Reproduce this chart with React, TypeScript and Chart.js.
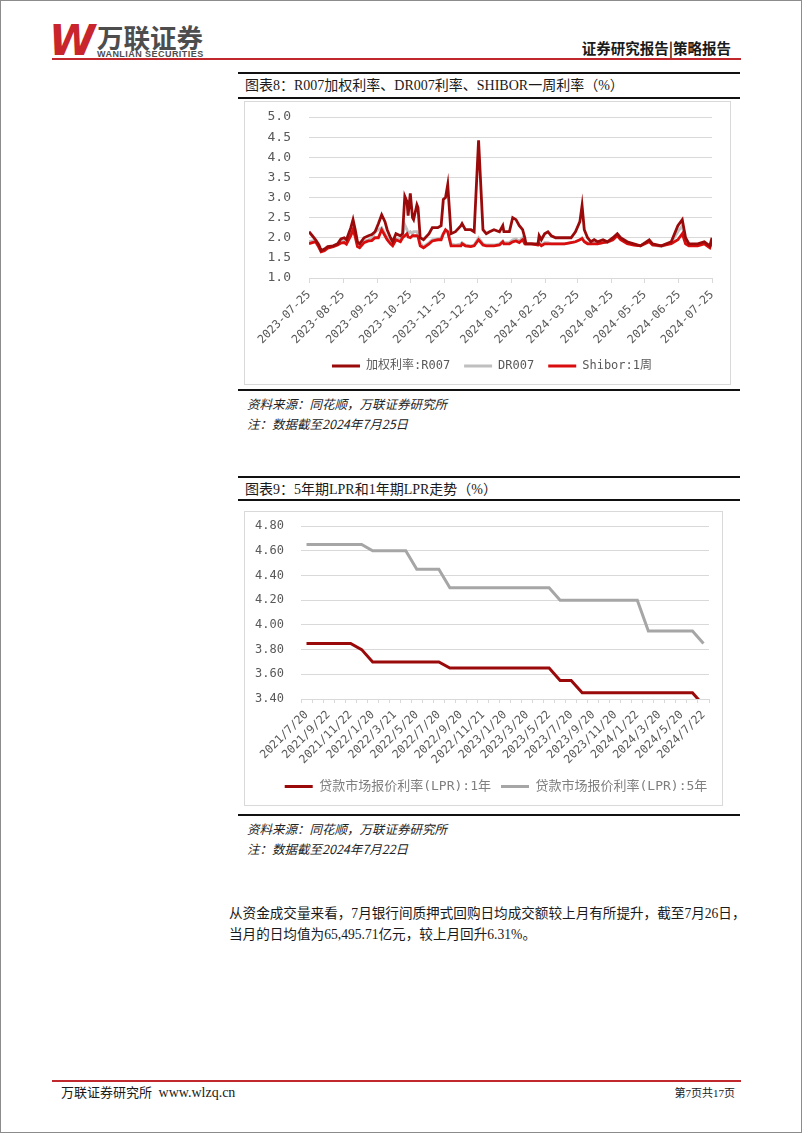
import React, { useEffect, useRef } from "react";
import { Chart, registerables } from "chart.js";

Chart.register(...registerables);

// ---------------- Chart 8 data (daily rates, sampled) ----------------
const RATE_DATES = [
  "2023-07-25", "2023-07-28", "2023-07-31", "2023-08-03", "2023-08-05", "2023-08-08", "2023-08-11",
  "2023-08-16", "2023-08-20", "2023-08-23", "2023-08-26", "2023-08-28", "2023-08-30", "2023-09-01",
  "2023-09-03", "2023-09-05", "2023-09-07", "2023-09-09", "2023-09-13", "2023-09-17", "2023-09-20",
  "2023-09-23", "2023-09-26", "2023-09-29", "2023-10-02", "2023-10-04", "2023-10-07", "2023-10-09",
  "2023-10-12", "2023-10-16", "2023-10-18", "2023-10-20", "2023-10-22", "2023-10-23", "2023-10-25",
  "2023-10-27", "2023-10-28", "2023-10-31", "2023-11-01", "2023-11-03", "2023-11-06", "2023-11-11",
  "2023-11-14", "2023-11-19", "2023-11-22", "2023-11-24", "2023-11-26", "2023-11-28", "2023-12-01",
  "2023-12-05", "2023-12-10", "2023-12-11", "2023-12-14", "2023-12-19", "2023-12-22", "2023-12-26",
  "2023-12-30", "2024-01-02", "2024-01-05", "2024-01-09", "2024-01-14", "2024-01-17", "2024-01-18",
  "2024-01-23", "2024-01-26", "2024-01-29", "2024-02-01", "2024-02-04", "2024-02-06", "2024-02-07",
  "2024-02-12", "2024-02-18", "2024-02-19", "2024-02-21", "2024-02-24", "2024-02-27", "2024-03-01",
  "2024-03-05", "2024-03-13", "2024-03-19", "2024-03-23", "2024-03-27", "2024-03-29", "2024-03-31",
  "2024-04-03", "2024-04-06", "2024-04-09", "2024-04-12", "2024-04-17", "2024-04-21", "2024-04-26",
  "2024-04-30", "2024-05-03", "2024-05-09", "2024-05-15", "2024-05-21", "2024-05-29", "2024-06-01",
  "2024-06-09", "2024-06-18", "2024-06-24", "2024-06-28", "2024-07-01", "2024-07-04", "2024-07-12",
  "2024-07-18", "2024-07-23", "2024-07-25",
];
const R007 = [
  2.15, 2.05, 1.95, 1.82, 1.68, 1.72, 1.78,
  1.80, 1.85, 1.97, 2.00, 1.95, 2.10, 2.25,
  2.45, 2.20, 1.90, 1.85, 2.00, 2.05, 2.08,
  2.15, 2.35, 2.57, 2.40, 2.20, 2.00, 1.90,
  2.10, 2.05, 2.10, 3.03, 2.90, 2.55, 3.10,
  2.50, 2.45, 2.82, 2.75, 2.00, 1.95, 2.10,
  2.25, 2.25, 2.30, 2.95, 3.00, 3.32, 2.10,
  2.15, 2.30, 2.35, 2.20, 2.20, 2.15, 4.42,
  2.20, 2.10, 2.15, 2.20, 2.15, 2.30, 2.15,
  2.15, 2.50, 2.45, 2.30, 2.20, 2.00, 1.85,
  1.85, 1.85, 2.05, 1.95, 2.10, 2.15, 2.05,
  2.00, 2.00, 2.00, 2.15, 2.40, 2.80, 2.20,
  2.00, 1.90, 1.95, 1.90, 1.95, 1.90, 2.00,
  2.10, 2.00, 1.90, 1.85, 1.80, 1.95, 1.85,
  1.80, 1.90, 2.30, 2.45, 2.00, 1.85, 1.85,
  1.90, 1.80, 2.00,
];
const DR007 = [
  1.90, 1.92, 1.93, 1.78, 1.66, 1.70, 1.75,
  1.79, 1.84, 1.90, 1.92, 1.87, 2.00, 2.12,
  2.25, 2.08, 1.82, 1.78, 1.92, 1.95, 1.98,
  2.15, 2.20, 2.25, 2.10, 2.00, 1.90, 1.82,
  1.98, 1.95, 2.05, 2.32, 2.20, 2.10, 2.15,
  2.10, 2.15, 2.15, 2.10, 1.85, 1.78, 1.88,
  1.95, 1.98, 2.00, 2.10, 2.15, 2.15, 1.85,
  1.82, 1.85, 1.88, 1.82, 1.80, 1.82, 2.00,
  1.85, 1.82, 1.82, 1.82, 1.85, 1.92, 1.88,
  1.88, 1.95, 1.97, 1.92, 2.00, 1.88, 1.85,
  1.85, 1.82, 1.88, 1.82, 1.88, 1.88, 1.85,
  1.85, 1.85, 1.88, 1.90, 1.95, 2.00, 1.92,
  1.87, 1.85, 1.86, 1.85, 1.88, 1.88, 1.95,
  2.08, 1.97, 1.87, 1.83, 1.80, 1.92, 1.82,
  1.78, 1.88, 2.15, 2.30, 1.90, 1.82, 1.82,
  1.88, 1.78, 1.92,
];
const SHIBOR_1W = [
  1.85, 1.88, 1.90, 1.76, 1.65, 1.68, 1.74,
  1.78, 1.82, 1.87, 1.88, 1.84, 1.95, 2.05,
  2.20, 2.02, 1.78, 1.75, 1.88, 1.92, 1.93,
  2.00, 2.00, 2.20, 2.05, 1.95, 1.85, 1.80,
  1.95, 1.90, 2.00, 2.05, 2.10, 2.02, 2.00,
  2.05, 2.05, 2.05, 2.03, 1.80, 1.75, 1.85,
  1.92, 1.95, 1.95, 2.10, 2.20, 2.15, 1.80,
  1.80, 1.80, 1.85, 1.80, 1.78, 1.80, 1.95,
  1.82, 1.80, 1.80, 1.80, 1.82, 1.90, 1.85,
  1.85, 1.90, 1.92, 1.88, 1.95, 1.85, 1.85,
  1.85, 1.82, 1.85, 1.80, 1.85, 1.85, 1.85,
  1.85, 1.85, 1.88, 1.90, 1.95, 1.98, 1.90,
  1.85, 1.85, 1.85, 1.85, 1.88, 1.90, 1.95,
  2.05, 1.95, 1.85, 1.82, 1.80, 1.90, 1.82,
  1.80, 1.85, 1.95, 2.10, 1.85, 1.80, 1.80,
  1.85, 1.75, 1.90,
];
const RATE_TICKS = [
  "2023-07-25", "2023-08-25", "2023-09-25", "2023-10-25", "2023-11-25", "2023-12-25", "2024-01-25",
  "2024-02-25", "2024-03-25", "2024-04-25", "2024-05-25", "2024-06-25", "2024-07-25",
];
const RATE_SERIES_NAMES = ["加权利率:R007", "DR007", "Shibor:1周"];

// ---------------- Chart 9 data (monthly LPR) ----------------
const LPR_DATES = [
  "2021/7/20", "2021/8/20", "2021/9/22", "2021/10/20", "2021/11/22", "2021/12/20",
  "2022/1/20", "2022/2/21", "2022/3/21", "2022/4/20", "2022/5/20", "2022/6/20",
  "2022/7/20", "2022/8/22", "2022/9/20", "2022/10/20", "2022/11/21", "2022/12/20",
  "2023/1/20", "2023/2/20", "2023/3/20", "2023/4/20", "2023/5/22", "2023/6/20",
  "2023/7/20", "2023/8/21", "2023/9/20", "2023/10/20", "2023/11/20", "2023/12/20",
  "2024/1/22", "2024/2/20", "2024/3/20", "2024/4/22", "2024/5/20", "2024/6/20",
  "2024/7/22",
];
const LPR_1Y = [
  3.85, 3.85, 3.85, 3.85, 3.85, 3.80,
  3.70, 3.70, 3.70, 3.70, 3.70, 3.70,
  3.70, 3.65, 3.65, 3.65, 3.65, 3.65,
  3.65, 3.65, 3.65, 3.65, 3.65, 3.55,
  3.55, 3.45, 3.45, 3.45, 3.45, 3.45,
  3.45, 3.45, 3.45, 3.45, 3.45, 3.45,
  3.35,
];
const LPR_5Y = [
  4.65, 4.65, 4.65, 4.65, 4.65, 4.65,
  4.60, 4.60, 4.60, 4.60, 4.45, 4.45,
  4.45, 4.30, 4.30, 4.30, 4.30, 4.30,
  4.30, 4.30, 4.30, 4.30, 4.30, 4.20,
  4.20, 4.20, 4.20, 4.20, 4.20, 4.20,
  4.20, 3.95, 3.95, 3.95, 3.95, 3.95,
  3.85,
];
const LPR_SERIES_NAMES = ["贷款市场报价利率(LPR):1年", "贷款市场报价利率(LPR):5年"];

// ---------------- helpers ----------------
const MONO = '"DejaVu Sans Mono", "Noto Sans CJK SC", monospace';
const SERIF = '"Liberation Serif", "Noto Sans CJK SC", serif';
const CJK = '"Noto Sans CJK SC", "Liberation Serif", serif';
const TICK_COLOR = "#595959";
const GRID = "#d9d9d9";
const NONE = "rgba(0,0,0,0)";

const BASE = Date.UTC(2023, 6, 25);
function dayOf(s: string): number {
  const [y, m, d] = s.split("-").map(Number);
  return Math.round((Date.UTC(y, m - 1, d) - BASE) / 86400000);
}

function legendLabels(chart: any) {
  const items = Chart.defaults.plugins.legend.labels.generateLabels(chart);
  return items.map((it: any) => ({ ...it, lineWidth: 0, fillStyle: it.strokeStyle }));
}

// moves the (horizontally centred) legend sideways after layout
function legendShift(dx: number) {
  return {
    id: "legendShift",
    afterLayout(chart: any) {
      const lg = chart.legend;
      if (lg) {
        lg.left += dx;
        lg.right += dx;
      }
    },
  };
}

function RateChart() {
  const ref = useRef<HTMLCanvasElement>(null);
  useEffect(() => {
    const tickMap: Record<number, string> = {};
    RATE_TICKS.forEach((t) => (tickMap[dayOf(t)] = t));
    const mk = (vals: number[]) => RATE_DATES.map((d, i) => ({ x: dayOf(d), y: vals[i] }));
    const chart = new Chart(ref.current!, {
      type: "line",
      data: {
        datasets: [
          { label: RATE_SERIES_NAMES[0], data: mk(R007), borderColor: "#9a0a0a", backgroundColor: "#9a0a0a", borderWidth: 2.8, pointRadius: 0, order: 0 },
          { label: RATE_SERIES_NAMES[1], data: mk(DR007), borderColor: "#bfbfbf", backgroundColor: "#bfbfbf", borderWidth: 2.8, pointRadius: 0, order: 2 },
          { label: RATE_SERIES_NAMES[2], data: mk(SHIBOR_1W), borderColor: "#d90d0d", backgroundColor: "#d90d0d", borderWidth: 2.8, pointRadius: 0, order: 1 },
        ],
      },
      plugins: [legendShift(13.5)],
      options: {
        animation: false,
        responsive: false,
        maintainAspectRatio: false,
        layout: { padding: { left: 0, right: 18, top: 15, bottom: 2 } },
        plugins: {
          tooltip: { enabled: false },
          legend: {
            position: "bottom",
            labels: {
              boxWidth: 28,
              boxHeight: 3,
              padding: 14,
              color: TICK_COLOR,
              font: { family: MONO, size: 12 },
              generateLabels: legendLabels,
              sort: (a: any, b: any) => a.datasetIndex - b.datasetIndex,
            },
          },
        },
        scales: {
          x: {
            type: "linear",
            min: 0,
            max: dayOf(RATE_TICKS[RATE_TICKS.length - 1]),
            afterBuildTicks: (scale: any) => {
              scale.ticks = RATE_TICKS.map((t) => ({ value: dayOf(t) }));
            },
            afterFit: (scale: any) => {
              scale.height = 68;
            },
            ticks: {
              autoSkip: false,
              minRotation: 45,
              maxRotation: 45,
              padding: 5,
              color: TICK_COLOR,
              font: { family: MONO, size: 11.5 },
              callback: (v: any) => tickMap[Math.round(v)] ?? "",
            },
            grid: { drawOnChartArea: false, drawTicks: true, tickLength: 5, color: GRID },
            border: { display: true, color: GRID },
          },
          y: {
            min: 1,
            max: 5,
            afterFit: (scale: any) => {
              scale.width = 64;
            },
            ticks: {
              stepSize: 0.5,
              padding: 2,
              color: TICK_COLOR,
              font: { family: MONO, size: 13 },
              callback: (v: any) => Number(v).toFixed(1),
            },
            grid: { color: GRID, drawTicks: true, tickLength: 16, tickColor: NONE },
            border: { display: false },
          },
        },
      },
    } as any);
    return () => chart.destroy();
  }, []);
  return <canvas ref={ref} width={485} height={282} style={{ position: "absolute", left: 244, top: 101, width: 485, height: 282 }} />;
}

function LprChart() {
  const ref = useRef<HTMLCanvasElement>(null);
  useEffect(() => {
    const chart = new Chart(ref.current!, {
      type: "line",
      data: {
        labels: LPR_DATES,
        datasets: [
          { label: LPR_SERIES_NAMES[0], data: LPR_1Y, borderColor: "#9a0a0a", backgroundColor: "#9a0a0a", borderWidth: 3, pointRadius: 0 },
          { label: LPR_SERIES_NAMES[1], data: LPR_5Y, borderColor: "#a6a6a6", backgroundColor: "#a6a6a6", borderWidth: 3, pointRadius: 0 },
        ],
      },
      plugins: [legendShift(19)],
      options: {
        animation: false,
        responsive: false,
        maintainAspectRatio: false,
        layout: { padding: { left: 0, right: 13, top: 14, bottom: 2 } },
        plugins: {
          tooltip: { enabled: false },
          legend: {
            position: "bottom",
            labels: {
              boxWidth: 28,
              boxHeight: 3,
              padding: 10,
              color: "#7f7f7f",
              font: { family: MONO, size: 13 },
              generateLabels: legendLabels,
            },
          },
        },
        scales: {
          x: {
            type: "category",
            offset: true,
            afterFit: (scale: any) => {
              scale.height = 71;
            },
            ticks: {
              autoSkip: false,
              minRotation: 45,
              maxRotation: 45,
              padding: 5,
              color: TICK_COLOR,
              font: { family: MONO, size: 11.5 },
              callback: (_v: any, i: number) => (i % 2 === 0 ? LPR_DATES[i] : ""),
            },
            grid: { offset: true, drawOnChartArea: false, drawTicks: true, tickLength: 4, color: GRID },
            border: { display: true, color: GRID },
          },
          y: {
            min: 3.4,
            max: 4.8,
            afterFit: (scale: any) => {
              scale.width = 56;
            },
            ticks: {
              stepSize: 0.2,
              padding: 2,
              color: TICK_COLOR,
              font: { family: MONO, size: 12 },
              callback: (v: any) => Number(v).toFixed(2),
            },
            grid: { color: GRID, drawTicks: true, tickLength: 15, tickColor: NONE },
            border: { display: false },
          },
        },
      },
    } as any);
    return () => chart.destroy();
  }, []);
  return <canvas ref={ref} width={477} height={293} style={{ position: "absolute", left: 244, top: 511, width: 477, height: 293 }} />;
}

function Txt(props: { x?: number; right?: number; cy: number; size: number; children: React.ReactNode; style?: React.CSSProperties }) {
  const h = Math.round(props.size * 1.4);
  const s: React.CSSProperties = {
    position: "absolute",
    top: props.cy - h / 2,
    height: h,
    lineHeight: `${h}px`,
    fontSize: props.size,
    whiteSpace: "nowrap",
    ...props.style,
  };
  if (props.right !== undefined) s.right = props.right;
  else s.left = props.x;
  return <div style={s}>{props.children}</div>;
}

function HLine(props: { x: number; y: number; w: number; h: number; color: string }) {
  return <div style={{ position: "absolute", left: props.x, top: props.y, width: props.w, height: props.h, background: props.color }} />;
}

export default function App() {
  return (
    <div
      style={{
        position: "absolute",
        left: 0,
        top: 0,
        width: 802,
        height: 1133,
        boxSizing: "border-box",
        border: "1px solid #8c8c8c",
        background: "#fff",
        overflow: "hidden",
        fontFamily: SERIF,
        color: "#1a1a1a",
      }}
    >
      {/* header logo */}
      <Txt x={48} cy={39} size={42} style={{ fontFamily: '"DejaVu Sans", sans-serif', fontWeight: 900, fontStyle: "italic", color: "#c8262c", letterSpacing: -3 }}>
        W
      </Txt>
      <Txt x={96} cy={35} size={26.5} style={{ fontFamily: CJK, fontWeight: 700, color: "#4d4d4d" }}>
        万联证券
      </Txt>
      <Txt x={96} cy={53} size={9} style={{ fontFamily: '"Liberation Sans", sans-serif', fontWeight: 700, color: "#4d4d4d", letterSpacing: 0.45 }}>
        WANLIAN SECURITIES
      </Txt>
      <Txt right={70} cy={47} size={14.5} style={{ fontFamily: CJK, fontWeight: 700, color: "#1a1a1a" }}>
        证券研究报告|策略报告
      </Txt>
      <HLine x={51} y={57} w={689} h={2} color="#c0282d" />

      {/* figure 8 */}
      <HLine x={237} y={71} w={502} h={2} color="#111" />
      <Txt x={244} cy={85} size={14} style={{ fontFamily: SERIF }}>
        图表8：R007加权利率、DR007利率、SHIBOR一周利率（%）
      </Txt>
      <HLine x={237} y={96} w={502} h={2} color="#111" />
      <div style={{ position: "absolute", left: 243, top: 100, width: 485, height: 282, border: "1px solid #d9d9d9" }} />
      <RateChart />
      <HLine x={237} y={388} w={502} h={2} color="#111" />
      <Txt x={246} cy={403} size={12.5} style={{ fontFamily: CJK, fontStyle: "italic", color: "#222" }}>
        资料来源：同花顺，万联证券研究所
      </Txt>
      <Txt x={246} cy={423} size={12.5} style={{ fontFamily: CJK, fontStyle: "italic", color: "#222" }}>
        注：数据截至2024年7月25日
      </Txt>

      {/* figure 9 */}
      <HLine x={237} y={475} w={502} h={2} color="#111" />
      <Txt x={244} cy={489} size={14} style={{ fontFamily: SERIF }}>
        图表9：5年期LPR和1年期LPR走势（%）
      </Txt>
      <HLine x={237} y={498} w={502} h={2} color="#111" />
      <div style={{ position: "absolute", left: 243, top: 510, width: 477, height: 293, border: "1px solid #d9d9d9" }} />
      <LprChart />
      <HLine x={237} y={813} w={502} h={2} color="#111" />
      <Txt x={246} cy={828} size={12.5} style={{ fontFamily: CJK, fontStyle: "italic", color: "#222" }}>
        资料来源：同花顺，万联证券研究所
      </Txt>
      <Txt x={246} cy={848} size={12.5} style={{ fontFamily: CJK, fontStyle: "italic", color: "#222" }}>
        注：数据截至2024年7月22日
      </Txt>

      {/* paragraph */}
      <Txt x={228} cy={912} size={13.6} style={{ fontFamily: SERIF }}>
        从资金成交量来看，7月银行间质押式回购日均成交额较上月有所提升，截至7月26日，
      </Txt>
      <Txt x={228} cy={933} size={13.6} style={{ fontFamily: SERIF }}>
        当月的日均值为65,495.71亿元，较上月回升6.31%。
      </Txt>

      {/* footer */}
      <HLine x={51} y={1079} w={689} h={2} color="#c0282d" />
      <Txt x={60} cy={1092} size={13} style={{ fontFamily: SERIF }}>
        万联证券研究所&nbsp;&nbsp;<span style={{ fontSize: 14 }}>www.wlzq.cn</span>
      </Txt>
      <Txt right={66} cy={1092} size={11} style={{ fontFamily: SERIF }}>
        第7页共17页
      </Txt>
    </div>
  );
}
